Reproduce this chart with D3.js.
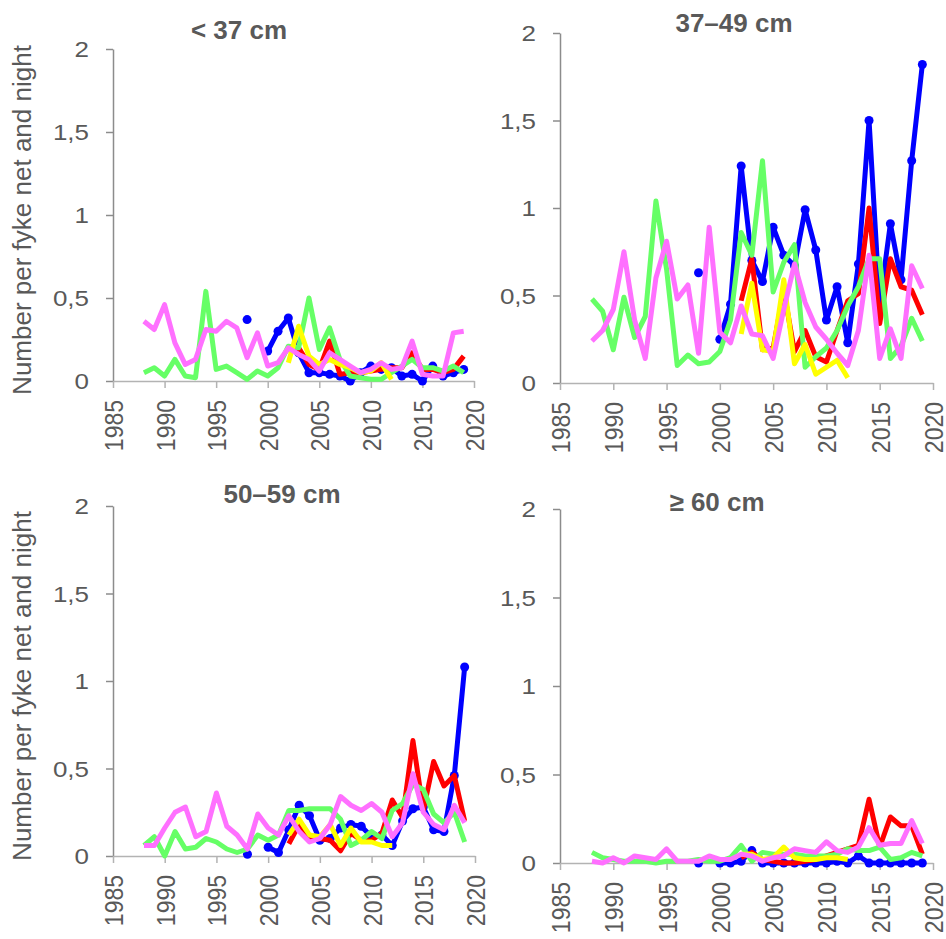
<!DOCTYPE html>
<html>
<head>
<meta charset="utf-8">
<script src="https://cdn.jsdelivr.net/npm/d3@7"></script>
<style>
  body { margin: 0; background: #fff; }
  text { font-family: "Liberation Sans", Arial, sans-serif; fill: #595959; }
</style>
</head>
<body>
<div id="chart"></div>
<script>
// years on the x axis (1988-2019)
var years = [1988,1989,1990,1991,1992,1993,1994,1995,1996,1997,1998,1999,2000,2001,2002,2003,
             2004,2005,2006,2007,2008,2009,2010,2011,2012,2013,2014,2015,2016,2017,2018,2019];
var xTicks = [1985,1990,1995,2000,2005,2010,2015,2020];
var yTicks = [0,0.5,1,1.5,2];
var yTickLabels = ["0","0,5","1","1,5","2"];
var titles = ["< 37 cm","37\u201349 cm","50\u201359 cm","\u2265 60 cm"];
var yLabel = "Number per fyke net and night";

var N = null;
// < 37 cm
var lt37Blue    = [N,N,N,N,N,N,N,N,N,N,.37,N,.18,.30,.38,.17,.05,.05,.04,.03,.00,.05,.09,.07,.08,.03,.04,.00,.09,.03,.05,.07];
var lt37Red     = [N,N,N,N,N,N,N,N,N,N,N,N,N,N,.18,.20,.10,.07,.24,.04,.05,.05,.06,.07,.08,.08,.17,.07,.07,.05,.07,.15];
var lt37Yellow  = [N,N,N,N,N,N,N,N,N,N,N,N,N,N,.11,.33,.15,.10,.13,.10,.08,.05,.06,.11,.01,N,N,N,N,N,N,N];
var lt37Green   = [.05,.08,.03,.13,.03,.02,.54,.07,.09,.05,.01,.06,.03,.08,.21,.20,.50,.19,.32,.13,.03,.02,.01,.01,.05,.09,.13,.08,.08,.06,.09,.05];
var lt37Pink    = [.36,.31,.46,.23,.10,.13,.31,.30,.36,.32,.14,.29,.09,.11,.20,.16,.13,.06,.17,.13,.09,.05,.07,.11,.07,.08,.24,.04,.03,.03,.29,.30];
// 37-49 cm
var c3749Blue   = [N,N,N,N,N,N,N,N,N,N,.63,N,.25,.45,1.24,.70,.58,.89,.73,.67,.99,.76,.36,.55,.23,.68,1.50,.45,.91,.59,1.27,1.82];
var c3749Red    = [N,N,N,N,N,N,N,N,N,N,N,N,N,N,.47,.71,.19,.20,.53,.18,.30,.15,.12,.30,.47,.51,1.00,.34,.71,.55,.53,.39];
var c3749Yellow = [N,N,N,N,N,N,N,N,N,N,N,N,N,N,.28,.57,.19,.18,.59,.11,.22,.05,.09,.13,.03,N,N,N,N,N,N,N];
var c3749Green  = [.48,.41,.19,.49,.26,.38,1.04,.65,.10,.16,.11,.12,.18,.36,.86,.73,1.27,.52,.69,.79,.09,.15,.20,.30,.44,.55,.71,.71,.14,.21,.37,.24];
var c3749Pink   = [.24,.30,.42,.75,.36,.14,.60,.81,.48,.56,.17,.89,.29,.23,.44,.28,.27,.14,.42,.68,.46,.32,.25,.17,.10,.30,.73,.14,.31,.14,.67,.54];
// 50-59 cm
var c5059Blue   = [N,N,N,N,N,N,N,N,N,N,.01,N,.05,.02,.15,.29,.23,.09,.10,.16,.18,.17,.11,.12,.06,.20,.27,.28,.15,.14,.46,1.08];
var c5059Red    = [N,N,N,N,N,N,N,N,N,N,N,N,N,N,.07,.18,.09,.10,.09,.03,.13,.09,.09,.13,.32,.22,.66,.26,.54,.40,.46,.20];
var c5059Yellow = [N,N,N,N,N,N,N,N,N,N,N,N,N,N,.12,.21,.12,.11,.18,.06,.16,.08,.08,.06,.06,N,N,N,N,N,N,N];
var c5059Green  = [.06,.11,.00,.14,.04,.05,.10,.08,.04,.02,.04,.12,.09,.12,.26,.26,.27,.27,.27,.21,.06,.09,.14,.10,.26,.30,.41,.38,.24,.19,.25,.08];
var c5059Pink   = [.06,.06,.16,.25,.28,.11,.14,.36,.17,.12,.04,.24,.16,.12,.23,.14,.08,.10,.18,.34,.29,.26,.30,.25,.11,.19,.47,.25,.18,.15,.29,.19];
// >= 60 cm
var ge60Blue    = [N,N,N,N,N,N,N,N,N,N,.00,N,.00,.00,.01,.07,.00,.00,.00,.00,.00,.00,.00,.01,.00,.04,.00,.00,.00,.00,.00,.00];
var ge60Red     = [N,N,N,N,N,N,N,N,N,N,N,N,N,N,.03,.06,.02,.01,.00,.00,.01,.02,.04,.06,.08,.10,.36,.09,.26,.21,.21,.05];
var ge60Yellow  = [N,N,N,N,N,N,N,N,N,N,N,N,N,N,.05,.05,.02,.03,.09,.03,.02,.02,.03,.03,.02,N,N,N,N,N,N,N];
var ge60Green   = [.06,.03,.02,.01,.01,.01,.00,.01,.01,.01,.02,.01,.01,.03,.10,.01,.06,.05,.05,.05,.04,.04,.04,.05,.08,.07,.07,.09,.02,.03,.06,.04];
var ge60Pink    = [.01,.00,.03,.00,.04,.03,.02,.08,.01,.01,.01,.04,.02,.02,.05,.04,.01,.03,.04,.08,.07,.06,.12,.07,.06,.09,.20,.10,.11,.11,.24,.11];

var colors = ["#0000ff","#ff0000","#66ff66","#ffff00","#ff70ff"];

// panel layout (pixels)
var panels = [
  {x0:113, x1:474, yTop:49,  yBot:381, tx:239, ty:39,  label:true,  series:[lt37Blue, lt37Red, lt37Green, lt37Yellow, lt37Pink]},
  {x0:560, x1:933, yTop:33,  yBot:383, tx:734, ty:32,  label:false, series:[c3749Blue, c3749Red, c3749Green, c3749Yellow, c3749Pink]},
  {x0:113, x1:475, yTop:506, yBot:856, tx:282, ty:503, label:true,  series:[c5059Blue, c5059Red, c5059Green, c5059Yellow, c5059Pink]},
  {x0:560, x1:933, yTop:509, yBot:863, tx:717, ty:511, label:false, series:[ge60Blue, ge60Red, ge60Green, ge60Yellow, ge60Pink]}
];

var svg = d3.select("#chart")
  .append("svg")
    .attr("width", 946)
    .attr("height", 939);

panels.forEach(function(p, pi) {
  var x = d3.scaleLinear().domain([1985, 2020]).range([p.x0, p.x1]);
  var y = d3.scaleLinear().domain([0, 2]).range([p.yBot, p.yTop]);
  var g = svg.append("g");

  // title
  g.append("text")
    .attr("x", p.tx)
    .attr("y", p.ty)
    .attr("text-anchor", "middle")
    .style("font-size", "26px")
    .style("font-weight", "bold")
    .text(titles[pi]);

  // y axis label
  if (p.label) {
    g.append("text")
      .attr("transform", "translate(31," + ((p.yTop + p.yBot) / 2 + 5) + ")rotate(-90)")
      .attr("text-anchor", "middle")
      .style("font-size", "26px")
      .text(yLabel);
  }

  // y axis
  var ya = g.append("g")
    .attr("transform", "translate(" + p.x0 + ",0)")
    .call(d3.axisLeft(y).tickValues(yTicks).tickSize(7).tickSizeOuter(0)
      .tickFormat(function(d, i) { return yTickLabels[i]; }));
  ya.select(".domain").attr("stroke", "#8c8c8c").attr("stroke-width", 1.5);
  ya.selectAll(".tick line").attr("stroke", "#8c8c8c").attr("stroke-width", 1.5);
  ya.selectAll(".tick text")
    .attr("x", -24 / 1.18)
    .attr("dy", "0.36em")
    .attr("transform", "scale(1.18,1)")
    .style("font-size", "22px")
    .attr("fill", "#595959");

  // x axis
  var xa = g.append("g")
    .attr("transform", "translate(0," + p.yBot + ")")
    .call(d3.axisBottom(x).tickValues(xTicks).tickSize(7).tickSizeOuter(0).tickFormat(d3.format("d")));
  xa.select(".domain").attr("stroke", "#b3b3b3").attr("stroke-width", 1.5);
  xa.selectAll(".tick line").attr("stroke", "#b3b3b3").attr("stroke-width", 1.5);
  xa.selectAll(".tick text")
    .attr("x", -19)
    .attr("y", 0)
    .attr("dy", "0.36em")
    .attr("transform", "rotate(-90)scale(1,1.15)")
    .style("text-anchor", "end")
    .style("font-size", "23px")
    .attr("fill", "#595959");

  // lines
  var line = d3.line()
    .defined(function(d) { return d[1] != null; })
    .x(function(d) { return x(d[0]); })
    .y(function(d) { return y(d[1]); });

  p.series.forEach(function(vals, si) {
    var pts = years.map(function(yr, i) { return [yr, vals[i]]; });
    var c = colors[si === 2 ? 2 : si === 3 ? 3 : si];
    g.append("path")
      .datum(pts)
      .attr("fill", "none")
      .attr("stroke", c)
      .attr("stroke-width", 5)
      .attr("stroke-linejoin", "round")
      .attr("d", line);
    if (si === 0) {
      g.selectAll(".dot" + pi)
        .data(pts.filter(function(d) { return d[1] != null; }))
        .enter()
        .append("circle")
          .attr("cx", function(d) { return x(d[0]); })
          .attr("cy", function(d) { return y(d[1]); })
          .attr("r", 4.5)
          .attr("fill", c);
    }
  });
});
</script>
</body>
</html>
